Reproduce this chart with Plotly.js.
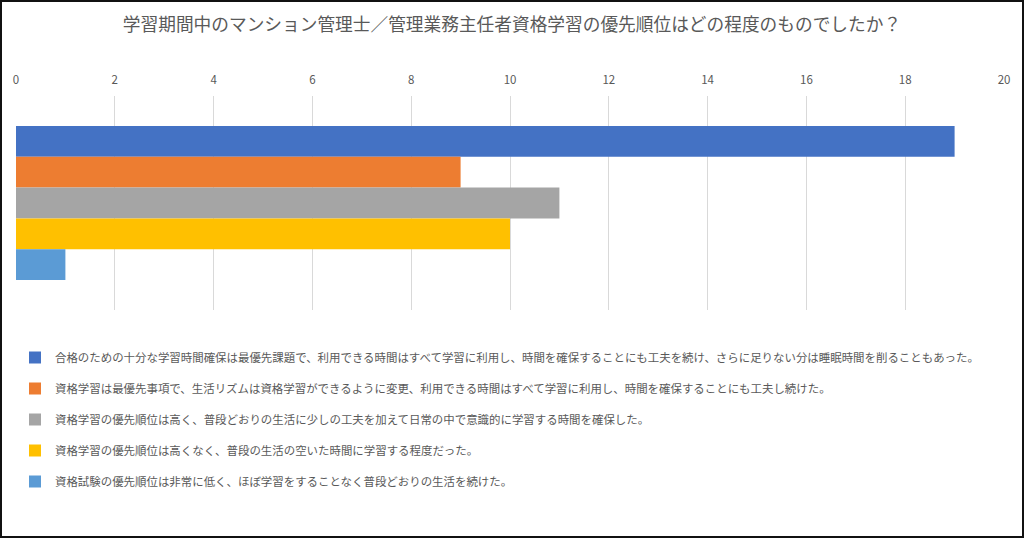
<!DOCTYPE html>
<html><head><meta charset="utf-8">
<script src="https://cdn.plot.ly/plotly-3.0.1.min.js"></script>
<style>
html,body{margin:0;padding:0;background:#fff;}
#wrap{position:relative;width:1024px;height:538px;}
#chart{width:1024px;height:538px;}
#frame{position:absolute;left:0;top:0;width:1024px;height:538px;box-sizing:border-box;border:2px solid #111;pointer-events:none;}
</style></head>
<body><div id="wrap"><div id="chart"></div><div id="frame"></div></div>
<script>
const titleText = "学習期間中のマンション管理士／管理業務主任者資格学習の優先順位はどの程度のものでしたか？";
const category = [""];
const seriesNames = [
  "合格のための十分な学習時間確保は最優先課題で、利用できる時間はすべて学習に利用し、時間を確保することにも工夫を続け、さらに足りない分は睡眠時間を削ることもあった。",
  "資格学習は最優先事項で、生活リズムは資格学習ができるように変更、利用できる時間はすべて学習に利用し、時間を確保することにも工夫し続けた。",
  "資格学習の優先順位は高く、普段どおりの生活に少しの工夫を加えて日常の中で意識的に学習する時間を確保した。",
  "資格学習の優先順位は高くなく、普段の生活の空いた時間に学習する程度だった。",
  "資格試験の優先順位は非常に低く、ほぼ学習をすることなく普段どおりの生活を続けた。"
];
const seriesValues = [19, 9, 11, 10, 1];
const seriesColors = ["#4472C4", "#ED7D31", "#A5A5A5", "#FFC000", "#5B9BD5"];
const xTicks = [0, 2, 4, 6, 8, 10, 12, 14, 16, 18, 20];

const font = '"Noto Sans CJK JP", "Noto Sans", sans-serif';
const traces = seriesNames.map((n, i) => ({
  type: 'bar', orientation: 'h',
  name: n, x: [seriesValues[i]], y: category,
  marker: {color: seriesColors[i]},
  legendgroup: 'g' + i,
  hoverinfo: 'x'
}));

const layout = {
  width: 1024, height: 538,
  paper_bgcolor: '#fff', plot_bgcolor: '#fff',
  font: {family: font, color: '#595959', size: 11},
  margin: {l: 16, r: 20, t: 96, b: 228, pad: 0, autoexpand: false},
  title: {text: titleText, font: {family: font, size: 17.7, color: '#595959'}, x: 0.5, xanchor: 'center', y: 1 - 25/538, yanchor: 'middle', yref: 'container'},
  barmode: 'group', bargap: 0.28, bargroupgap: 0,
  xaxis: {
    side: 'top', range: [0, 20], tickvals: xTicks, ticktext: xTicks.map(String),
    showgrid: true, gridcolor: '#D9D9D9', gridwidth: 1,
    zeroline: false, showline: false, ticks: '', ticklen: 0, ticklabelstandoff: 9,
    tickfont: {size: 11.5, color: '#595959'}, fixedrange: true, automargin: false
  },
  yaxis: {
    autorange: 'reversed', showticklabels: false, showgrid: false,
    zeroline: false, showline: false, ticks: '', fixedrange: true, automargin: false
  },
  showlegend: true,
  legend: {
    orientation: 'v', traceorder: 'grouped', tracegroupgap: 12,
    x: 15/1024, xref: 'container', xanchor: 'left',
    y: 1 - 343/538, yref: 'container', yanchor: 'top',
    font: {family: font, size: 11.45, color: '#595959'},
    itemwidth: 30, bgcolor: 'rgba(0,0,0,0)'
  }
};
Plotly.newPlot('chart', traces, layout, {displayModeBar: false, staticPlot: true});
</script></body></html>
